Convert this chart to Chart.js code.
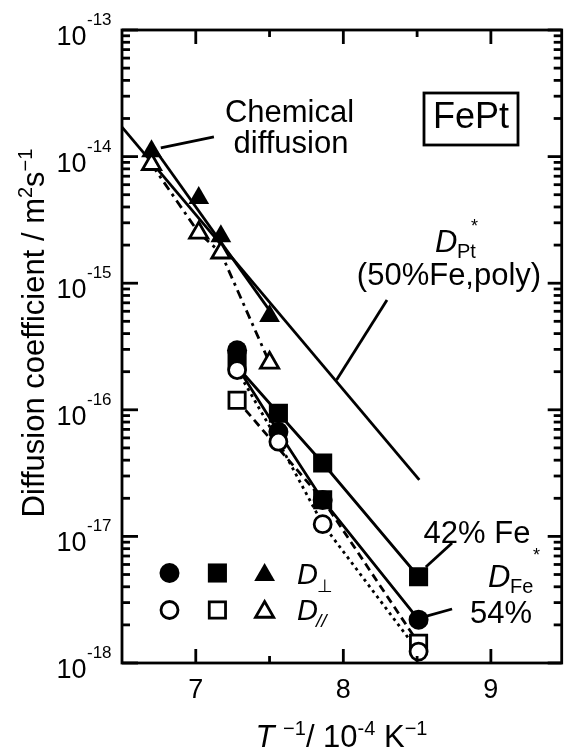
<!DOCTYPE html>
<html>
<head>
<meta charset="utf-8">
<script src="https://cdn.jsdelivr.net/npm/chart.js@4.4.0/dist/chart.umd.min.js"></script>
<style>
  html, body { margin: 0; padding: 0; background: #fff; }
  canvas { display: block; }
</style>
</head>
<body>
<canvas id="diffChart" width="576" height="749"></canvas>
<script>
// values: x = 1/T in 1e-4 K^-1, y = D in m^2/s
const filledCircleX = [7.28, 7.56, 7.86, 8.51];
const filledCircleY = [2.95e-16, 6.7e-17, 1.94e-17, 2.2e-18];
const openCircleX = [7.28, 7.56, 7.86, 8.51];
const openCircleY = [2.06e-16, 5.6e-17, 1.25e-17, 1.23e-18];
const filledSquareX = [7.28, 7.56, 7.86, 8.51];
const filledSquareY = [2.47e-16, 9.4e-17, 3.8e-17, 4.8e-18];
const openSquareX = [7.28, 7.86, 8.51];
const openSquareY = [1.19e-16, 1.95e-17, 1.43e-18];
const filledTriX = [6.70, 7.02, 7.17, 7.50];
const filledTriY = [1.1e-14, 4.7e-15, 2.35e-15, 5.5e-16];
const openTriX = [6.70, 7.02, 7.17, 7.50];
const openTriY = [8.7e-15, 2.5e-15, 1.74e-15, 2.35e-16];

// fitted / guide lines
const dPtLineX = [6.5, 8.515];
const dPtLineY = [1.71e-14, 2.8e-17];
const chemLineX = [6.70, 7.50];
const chemLineY = [1.24e-14, 6.1e-16];
const fe42LineX = [7.28, 7.56, 7.86, 8.51];
const fe42LineY = [2.2e-16, 9.4e-17, 3.8e-17, 4.8e-18];
const fe54LineX = [7.28, 7.56, 7.86, 8.51];
const fe54LineY = [2.2e-16, 6.7e-17, 1.94e-17, 2.2e-18];

// leader lines for the labels [x1, y1, x2, y2]
const chemPointer = [6.763, 1.17e-14, 7.123, 1.43e-14];
const dPtPointer = [7.954, 1.72e-16, 8.296, 7.36e-16];
const fe42Pointer = [8.559, 5.73e-18, 8.737, 8.87e-18];
const fe54Pointer = [8.546, 2.31e-18, 8.737, 2.67e-18];

const xTicks = [7, 8, 9];
const xTickLabels = ['7', '8', '9'];
const xMinorTicks = [7.5, 8.5];
const yExponents = [-18, -17, -16, -15, -14, -13];

const FONT = '"Liberation Sans", Arial, "DejaVu Sans", sans-serif';
const LW = 2.8;

function pts(xs, ys) {
  return xs.map((x, i) => ({ x: x, y: ys[i] }));
}

function marks(xs, ys, style, r, filled, order) {
  return {
    data: pts(xs, ys),
    showLine: false,
    pointStyle: style,
    pointRadius: r,
    pointBackgroundColor: filled ? '#000' : '#fff',
    pointBorderColor: '#000',
    pointBorderWidth: filled ? 0 : LW,
    order: order
  };
}

function line(xs, ys, dash, order) {
  return {
    data: pts(xs, ys),
    showLine: true,
    pointRadius: 0,
    borderColor: '#000',
    borderWidth: LW,
    borderDash: dash,
    fill: false,
    order: order
  };
}

function font(size, italic) {
  return (italic ? 'italic ' : '') + size + 'px ' + FONT;
}

// runs: [text, size, italic, dy]
function drawRuns(ctx, x, y, runs, align) {
  let total = 0;
  runs.forEach(r => {
    ctx.font = font(r[1], r[2]);
    r.w = ctx.measureText(r[0]).width;
    total += r.w;
  });
  let cx = x;
  if (align === 'center') cx = x - total / 2;
  if (align === 'right') cx = x - total;
  ctx.textAlign = 'left';
  ctx.textBaseline = 'alphabetic';
  runs.forEach(r => {
    ctx.font = font(r[1], r[2]);
    ctx.fillText(r[0], cx, y + (r[3] || 0));
    cx += r.w;
  });
}

function legendMark(ctx, style, x, y, r, filled) {
  ctx.save();
  ctx.fillStyle = filled ? '#000' : '#fff';
  ctx.strokeStyle = '#000';
  ctx.lineWidth = filled ? 0 : LW;
  Chart.helpers.drawPoint(ctx, { pointStyle: style, radius: r, rotation: 0, borderWidth: filled ? 0 : LW }, x, y);
  ctx.restore();
}

const decor = {
  id: 'decor',
  afterDatasetsDraw(chart) {
    const ctx = chart.ctx;
    const a = chart.chartArea;
    const xs = chart.scales.x;
    const ys = chart.scales.y;
    ctx.save();
    ctx.strokeStyle = '#000';
    ctx.fillStyle = '#000';
    ctx.lineWidth = LW;
    ctx.lineCap = 'butt';

    // frame
    ctx.strokeRect(a.left, a.top, a.right - a.left, a.bottom - a.top);

    // x ticks, bottom and top, pointing inward
    const tick = (x1, y1, x2, y2) => {
      ctx.beginPath(); ctx.moveTo(x1, y1); ctx.lineTo(x2, y2); ctx.stroke();
    };
    xTicks.forEach(v => {
      const px = xs.getPixelForValue(v);
      tick(px, a.bottom, px, a.bottom - 14);
      tick(px, a.top, px, a.top + 14);
    });
    xMinorTicks.forEach(v => {
      const px = xs.getPixelForValue(v);
      tick(px, a.bottom, px, a.bottom - 7);
      tick(px, a.top, px, a.top + 7);
    });
    // y ticks, left and right
    yExponents.forEach(e => {
      const py = ys.getPixelForValue(Math.pow(10, e));
      tick(a.left, py, a.left + 16, py);
      tick(a.right, py, a.right - 14, py);
      if (e < -13) {
        for (let m = 2; m <= 9; m++) {
          const pm = ys.getPixelForValue(m * Math.pow(10, e));
          tick(a.left, pm, a.left + 8, pm);
          tick(a.right, pm, a.right - 8, pm);
        }
      }
    });

    // tick labels
    yExponents.forEach(e => {
      const py = ys.getPixelForValue(Math.pow(10, e));
      drawRuns(ctx, 86.5, py + 15, [['10', 27, false, 0]], 'right');
      drawRuns(ctx, 87, py - 5, [['-' + Math.abs(e), 17, false, 0]], 'left');
    });
    xTicks.forEach((v, i) => {
      drawRuns(ctx, xs.getPixelForValue(v), 698, [[xTickLabels[i], 27, false, 0]], 'center');
    });

    // axis titles
    drawRuns(ctx, 341.5, 747, [
      ['T', 31, true, 0], [' ', 31, false, 0], ['\u22121', 20, false, -12],
      ['/ 10', 31, false, 0], ['-4', 20, false, -12], [' K', 31, false, 0],
      ['\u22121', 20, false, -12]
    ], 'center');
    ctx.save();
    ctx.translate(44, 333);
    ctx.rotate(-Math.PI / 2);
    drawRuns(ctx, 0, 0, [
      ['Diffusion coefficient / m', 31, false, 0], ['2', 20, false, -12],
      ['s', 31, false, 0], ['\u22121', 20, false, -12]
    ], 'center');
    ctx.restore();

    // leader lines
    [chemPointer, dPtPointer, fe42Pointer, fe54Pointer].forEach(p => {
      tick(xs.getPixelForValue(p[0]), ys.getPixelForValue(p[1]),
           xs.getPixelForValue(p[2]), ys.getPixelForValue(p[3]));
    });

    // annotations
    drawRuns(ctx, 289.5, 122, [['Chemical', 31, false, 0]], 'center');
    drawRuns(ctx, 291, 153, [['diffusion', 31, false, 0]], 'center');
    ctx.strokeRect(424, 93, 94, 52);
    drawRuns(ctx, 471, 128, [['FePt', 36, false, 0]], 'center');
    drawRuns(ctx, 435, 252, [['D', 31, true, 0]], 'left');
    drawRuns(ctx, 457, 258, [['Pt', 20, false, 0]], 'left');
    drawRuns(ctx, 471, 232, [['*', 18, false, 0]], 'left');
    drawRuns(ctx, 449, 285, [['(50%Fe,poly)', 31, false, 0]], 'center');
    drawRuns(ctx, 477, 543, [['42% Fe', 31, false, 0]], 'center');
    drawRuns(ctx, 488, 587, [['D', 31, true, 0]], 'left');
    drawRuns(ctx, 510, 593, [['Fe', 20, false, 0]], 'left');
    drawRuns(ctx, 533, 561, [['*', 18, false, 0]], 'left');
    drawRuns(ctx, 470, 623, [['54%', 31, false, 0]], 'left');

    // legend
    legendMark(ctx, 'circle', 169.5, 573, 10, true);
    legendMark(ctx, 'rect', 217.4, 573, 13.5, true);
    legendMark(ctx, 'triangle', 264.6, 575, 12, true);
    legendMark(ctx, 'circle', 169.5, 610, 8.5, false);
    legendMark(ctx, 'rect', 217.4, 610, 11.5, false);
    legendMark(ctx, 'triangle', 264.6, 612, 10.5, false);
    drawRuns(ctx, 297, 584, [['D', 29, true, 0]], 'left');
    drawRuns(ctx, 317, 592, [['\u22a5', 18, false, 0]], 'left');
    drawRuns(ctx, 297, 620, [['D', 29, true, 0]], 'left');
    drawRuns(ctx, 316, 627, [['//', 19, true, 0]], 'left');

    ctx.restore();
  }
};

const ctx = document.getElementById('diffChart').getContext('2d');
const diffChart = new Chart(ctx, {
  type: 'scatter',
  data: {
    datasets: [
      marks(openCircleX, openCircleY, 'circle', 8.5, false, 0),
      marks(filledCircleX, filledCircleY, 'circle', 10, true, 1),
      marks(openSquareX, openSquareY, 'rect', 11.5, false, 2),
      marks(filledSquareX, filledSquareY, 'rect', 13.5, true, 3),
      marks(filledTriX, filledTriY, 'triangle', 12, true, 4),
      marks(openTriX, openTriY, 'triangle', 10.5, false, 5),
      line(dPtLineX, dPtLineY, [], 10),
      line(chemLineX, chemLineY, [], 11),
      line(fe42LineX, fe42LineY, [], 12),
      line(fe54LineX, fe54LineY, [], 13),
      line(openSquareX, openSquareY, [8, 5], 14),
      line(openCircleX, openCircleY, [3, 4], 15),
      line(openTriX, openTriY, [9, 5, 3, 5], 16)
    ]
  },
  options: {
    responsive: false,
    devicePixelRatio: 1,
    animation: false,
    layout: { padding: { left: 122, top: 30, right: 2, bottom: 86 } },
    plugins: {
      legend: { display: false },
      tooltip: { enabled: false }
    },
    scales: {
      x: { type: 'linear', min: 6.5, max: 9.48, display: false },
      y: { type: 'logarithmic', min: 1e-18, max: 1e-13, display: false }
    }
  },
  plugins: [decor]
});
</script>
</body>
</html>
